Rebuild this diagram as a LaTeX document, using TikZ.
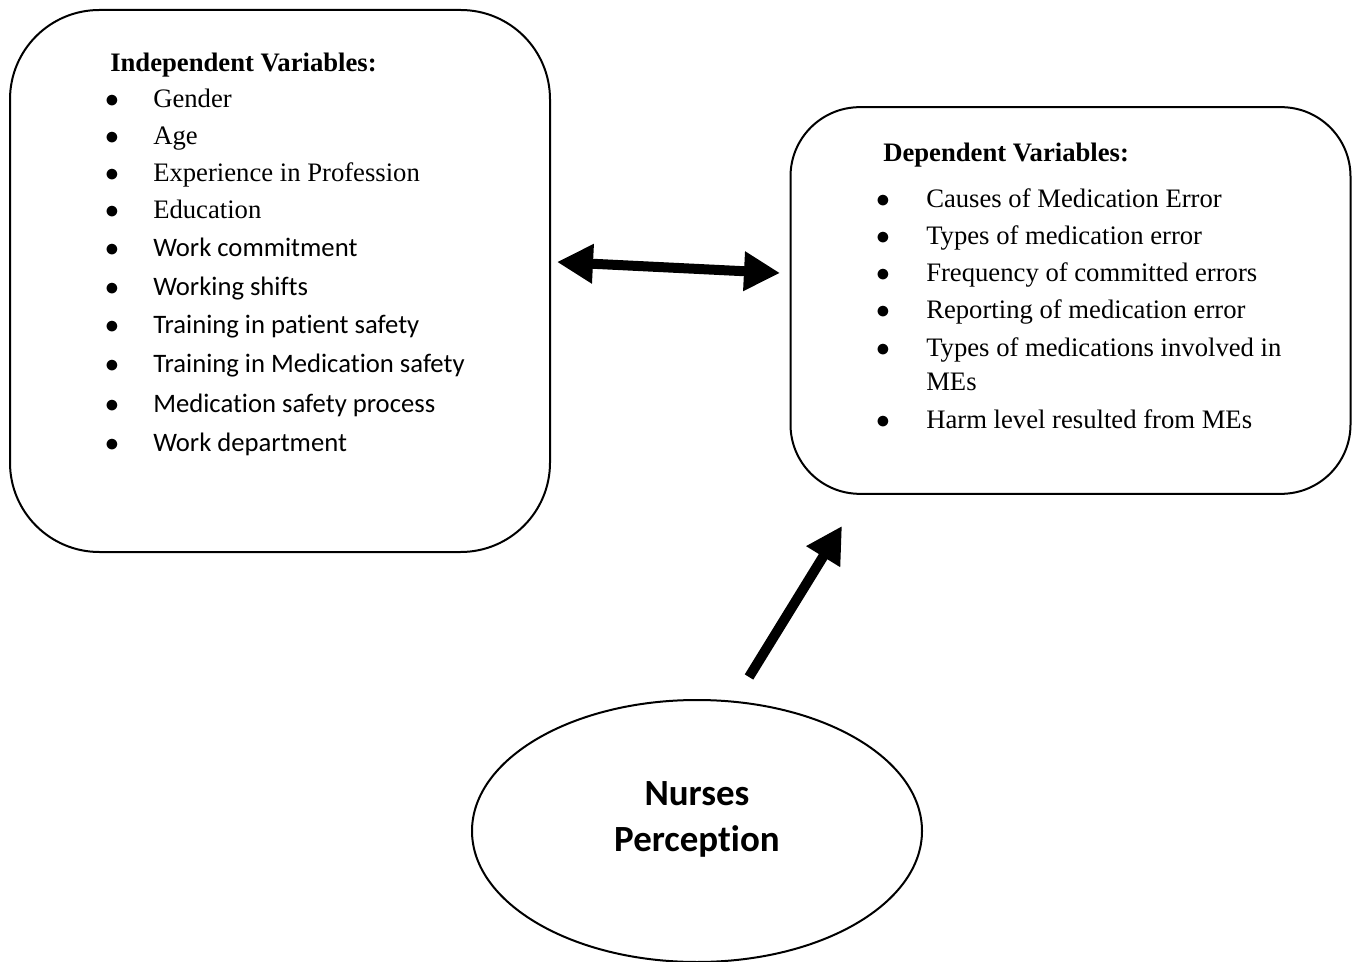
\documentclass[tikz,border=0pt]{standalone}
\usepackage{fontspec}
\setmainfont{Liberation Serif}
\newfontfamily\calibri[Ligatures=NoCommon]{Carlito}
\usetikzlibrary{shapes.geometric,arrows.meta}

\tikzset{
  varbox/.style={draw, line width=1.5pt},
  itemtext/.style={anchor=base west, inner sep=0pt, font=\fontsize{20}{24}\selectfont},
  itemdot/.style={anchor=base, inner sep=0pt, font=\fontsize{20}{24}\selectfont},
  bighead/.tip={Triangle[length=27pt,width=28pt]},
  bigarrow/.style={line width=7.5pt},
}

\begin{document}
\begin{tikzpicture}[x=0.75pt,y=-0.75pt]
    \useasboundingbox (0,0) rectangle (1353,962);

    % the three shapes
    \node[varbox, rounded corners=67pt, minimum width=405pt, minimum height=406.5pt] (ivbox) at (280,281) {};
    \node[varbox, rounded corners=52pt, minimum width=420pt, minimum height=290pt] (dvbox) at (1070.5,300.5) {};
    \node[varbox, ellipse, minimum width=337.5pt, minimum height=196.5pt] (nurses) at (697,831) {};
    \node[align=center, inner sep=0pt, font=\calibri\bfseries\fontsize{27.7}{34.5}\selectfont] (nplabel) at (697,819) {Nurses\\Perception};

    % independent variables
    \node[itemtext, font=\bfseries\fontsize{20}{24}\selectfont] (ivhead) at (110,72) {Independent Variables:};
    \foreach \t/\y [count=\i] in {Gender/108, Age/145, Experience in Profession/182, Education/219}{
        \node[itemdot] (ivb\i) at (112,\y) {$\bullet$};
        \node[itemtext] (iv\i) at (153,\y) {\t};
    }
    \foreach \t/\y [count=\i from 5] in {Work commitment/257, Working shifts/296, Training in patient safety/334,
        Training in Medication safety/373, Medication safety process/412, Work department/451}{
        \node[itemdot] (ivb\i) at (112,\y) {$\bullet$};
        \node[itemtext, font=\calibri\fontsize{20}{24}\selectfont] (iv\i) at (153,\y) {\t};
    }

    % dependent variables
    \node[itemtext, font=\bfseries\fontsize{20}{24}\selectfont] (dvhead) at (883,162) {Dependent Variables:};
    \foreach \t/\y [count=\i] in {Causes of Medication Error/208, Types of medication error/245,
        Frequency of committed errors/282, Reporting of medication error/319,
        Types of medications involved in/357, Harm level resulted from MEs/429}{
        \node[itemdot] (dvb\i) at (883,\y) {$\bullet$};
        \node[itemtext] (dv\i) at (926,\y) {\t};
    }
    \node[itemtext] (dv5b) at (926,391) {MEs};

    % arrows
    \coordinate (ivtip) at (557,262);
    \coordinate (dvtip) at (780,273);
    \coordinate (nptail) at (749,677);
    \coordinate (nphead) at (842,526);
    \draw[bigarrow, bighead-bighead] (ivtip) -- (dvtip);
    \draw[bigarrow, -bighead] (nptail) -- (nphead);
\end{tikzpicture}
\end{document}
